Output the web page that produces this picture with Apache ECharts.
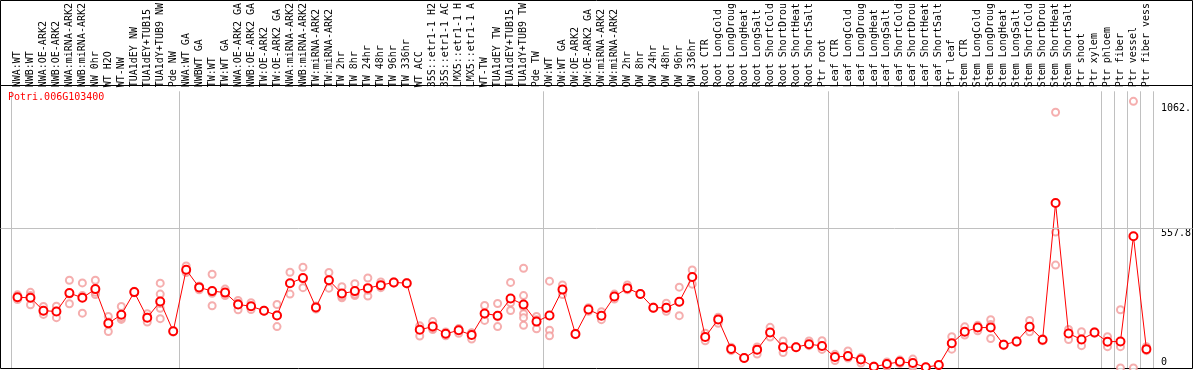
<!DOCTYPE html>
<html><head><meta charset="utf-8">
<script src="https://cdn.jsdelivr.net/npm/echarts@6/dist/echarts.min.js"></script>
<style>html,body{margin:0;padding:0;background:#fff}#c{width:1194px;height:370px}</style>
</head><body><div id="c"></div>
<script>
const geneId = 'Potri.006G103400';
const categories = [
 'NWA:WT','NWB:WT','NWA:OE-ARK2','NWB:OE-ARK2','NWA:miRNA-ARK2','NWB:miRNA-ARK2','NW 0hr','WT H2O','WT-NW','TUA1dEY NW','TUA1dEY+TUB15','TUA1dY+TUB9 NW','Pde NW',
 'NWA:WT GA','NWBWT GA','TW:WT','TW:WT GA','NWA:OE-ARK2 GA','NWB:OE-ARK2 GA','TW:OE-ARK2','TW:OE-ARK2 GA','NWA:miRNA-ARK2','NWB:miRNA-ARK2','TW:miRNA-ARK2','TW:miRNA-ARK2','TW 2hr','TW 8hr','TW 24hr','TW 48hr','TW 96hr','TW 336hr','WT ACC','35S::etr1-1 H2','35S::etr1-1 AC','LMX5::etr1-1 H','LMX5::etr1-1 A','WT-TW','TUA1dEY TW','TUA1dEY+TUB15','TUA1dY+TUB9 TW','Pde TW',
 'OW:WT','OW:WT GA','OW:OE-ARK2','OW:OE-ARK2 GA','OW:miRNA-ARK2','OW:miRNA-ARK2','OW 2hr','OW 8hr','OW 24hr','OW 48hr','OW 96hr','OW 336hr',
 'Root CTR','Root LongCold','Root LongDroug','Root LongHeat','Root LongSalt','Root ShortCold','Root ShortDrou','Root ShortHeat','Root ShortSalt','Ptr root',
 'Leaf CTR','Leaf LongCold','Leaf LongDroug','Leaf LongHeat','Leaf LongSalt','Leaf ShortCold','Leaf ShortDrou','Leaf ShortHeat','Leaf ShortSalt','Ptr leaf',
 'Stem CTR','Stem LongCold','Stem LongDroug','Stem LongHeat','Stem LongSalt','Stem ShortCold','Stem ShortDrou','Stem ShortHeat','Stem ShortSalt','Ptr shoot','Ptr xylem',
 'Ptr phloem','Ptr fiber','Ptr vessel','Ptr fiber vess'
];
// index of first category of each group (group separators)
const groupStarts = [0, 13, 41, 53, 63, 73, 84, 85, 86, 87];

const meanValues = [
 285,283,231,228,302,283,318,180,215,306,203,268,148,
 396,325,310,304,256,249,231,212,342,363,244,354,300,310,322,334,345,342,154,167,138,152,133,220,211,280,256,187,
 212,316,137,236,211,288,322,298,243,243,267,367,
 125,196,77,40,74,143,84,84,96,89,
 44,48,34,5,16,25,20,3,12,100,
 146,163,163,94,107,166,114,665,139,115,143,
 106,107,531,76
];
const rep1 = [
 295,305,248,249,354,343,354,208,248,306,219,342,150,
 411,330,378,318,272,263,233,256,386,406,250,385,328,340,363,347,348,345,163,187,145,158,140,252,260,345,402,208,
 350,335,140,243,227,298,335,300,246,261,326,395,
 140,180,84,42,56,164,109,86,109,110,
 55,69,42,8,24,32,36,3,12,126,
 166,172,195,97,110,192,118,1031,155,146,146,
 126,235,1075,86
];
const rep2 = [
 276,255,216,203,259,221,296,147,196,303,185,298,145,
 392,315,251,292,235,236,229,167,298,324,238,322,283,292,290,324,342,339,129,155,130,140,117,192,167,232,292,158,
 152,296,134,229,195,278,315,296,240,229,211,338,
 110,205,70,38,85,125,62,82,90,75,
 30,40,20,2,6,18,5,3,12,76,
 133,150,119,90,104,146,110,548,115,90,140,
 86,86,0,70
];
const rep3 = [
 285,292,230,230,298,292,305,185,203,309,205,241,null,
 385,330,301,302,261,248,null,213,null,359,null,355,290,298,313,331,null,null,170,160,null,158,142,216,206,263,219,195,
 130,null,null,null,null,null,null,null,null,240,265,null,
 null,null,null,null,null,null,null,null,null,null,
 null,null,null,null,null,null,null,null,null,null,
 null,null,175,null,null,null,null,415,null,null,null,
 null,0,null,null
];
// extra replicates for the few samples with more than three
const extraRepCategory = [11, 11, 39, 39, 39];
const extraRepValue = [199, 260, 203, 172, 248];

const yMax = 1115.6;
const yTickValues = [0, 557.8, 1062.5];
const yTickLabels = ['0', '557.8', '1062.'];
const gridLineValue = 557.8;

const mono = 'DejaVu Sans Mono';
const sepFn = (idx) => groupStarts.indexOf(idx) >= 0;

function repPoints(arr) {
  const out = [];
  arr.forEach((v, i) => { if (v !== null && v !== undefined) out.push([i, v]); });
  return out;
}
const repData = [].concat(repPoints(rep1), repPoints(rep2), repPoints(rep3),
  extraRepCategory.map((c, k) => [c, extraRepValue[k]]));

const chart = echarts.init(document.getElementById('c'), null, {renderer: 'canvas'});
const boxTop = 85, plotTop = 88, plotBottom = 368;
chart.setOption({
  animation: false,
  backgroundColor: '#fff',
  title: {
    text: geneId, left: 8, top: 92, padding: 0,
    textStyle: {color: '#ff0000', fontFamily: mono, fontSize: 10, fontWeight: 'normal'}
  },
  grid: [
    {left: 11, top: plotTop, width: 1144, height: plotBottom - plotTop},
    {left: 0.5, top: boxTop + 0.5, width: 1192, height: plotBottom - boxTop, show: true,
     borderColor: '#000', borderWidth: 1, backgroundColor: 'transparent'},
    {left: 0.5, top: 0.5, width: 1192, height: boxTop, show: true,
     borderColor: '#000', borderWidth: 1, backgroundColor: 'transparent'}
  ],
  xAxis: [
    {type: 'category', gridIndex: 0, data: categories, position: 'top', boundaryGap: true,
     axisLine: {show: false},
     axisTick: {show: true, interval: sepFn, length: plotTop, lineStyle: {color: '#c0c0c0', width: 1}},
     splitLine: {show: true, interval: sepFn, lineStyle: {color: '#c0c0c0', width: 1}},
     axisLabel: {interval: 0, rotate: 90, margin: 4, fontFamily: mono, fontSize: 10, color: '#000'}},
    {type: 'value', gridIndex: 1, show: false, min: 0, max: 1},
    {type: 'value', gridIndex: 2, show: false, min: 0, max: 1}
  ],
  yAxis: [
    {type: 'value', gridIndex: 0, position: 'right', min: 0, max: yMax,
     axisLine: {show: false}, axisTick: {show: false}, splitLine: {show: false},
     axisLabel: {customValues: yTickValues, margin: 8, fontFamily: mono, fontSize: 10, color: '#000',
       align: 'left',
       formatter: (v) => {
         const k = yTickValues.indexOf(v);
         const t = k >= 0 ? yTickLabels[k] : String(v);
         return v === 0 ? '{lo|' + t + '}' : '{hi|' + t + '}';
       },
       rich: {
         lo: {padding: [0, 0, 12, 0], fontFamily: mono, fontSize: 10, color: '#000'},
         hi: {padding: [8, 0, 0, 0], fontFamily: mono, fontSize: 10, color: '#000'}
       }}},
    {type: 'value', gridIndex: 1, show: false, min: 0, max: yMax * (plotBottom - boxTop) / (plotBottom - plotTop)},
    {type: 'value', gridIndex: 2, show: false, min: 0, max: 1}
  ],
  series: [
    {type: 'line', xAxisIndex: 1, yAxisIndex: 1, data: [[0.5, null]], symbol: 'none', silent: true, z: 0,
     markLine: {symbol: 'none', silent: true, animation: false, label: {show: false},
       lineStyle: {color: '#c0c0c0', type: 'solid', width: 1},
       data: [{yAxis: gridLineValue}]}},
    {type: 'scatter', xAxisIndex: 0, yAxisIndex: 0, data: repData, symbol: 'emptyCircle', symbolSize: 7, z: 2,
     itemStyle: {color: '#f29a9a', borderColor: '#f29a9a', borderWidth: 1.5}},
    {type: 'line', xAxisIndex: 0, yAxisIndex: 0, data: meanValues, symbol: 'emptyCircle', symbolSize: 8, z: 3,
     lineStyle: {color: '#ff0000', width: 1},
     itemStyle: {color: '#ff0000', borderColor: '#ff0000', borderWidth: 2}}
  ]
});
</script></body></html>
